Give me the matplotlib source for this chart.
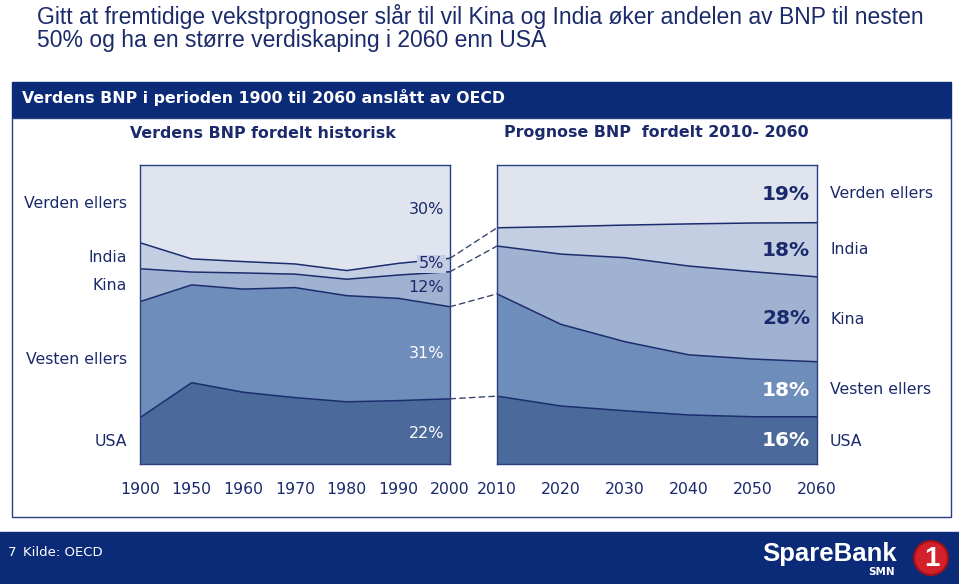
import numpy as np
import matplotlib
matplotlib.use("Agg")
import matplotlib.pyplot as plt
from matplotlib.patches import Rectangle, Circle, ConnectionPatch

# ---------------- data ----------------
hist_years = ["1900", "1950", "1960", "1970", "1980", "1990", "2000"]
hist_usa    = [15.5, 27.2, 24.0, 22.2, 20.8, 21.2, 21.8]
hist_vesten = [38.8, 32.7, 34.5, 36.8, 35.5, 34.2, 30.8]
hist_kina   = [11.0, 4.3, 5.4, 4.5, 5.5, 7.8, 11.7]
hist_india  = [8.7, 4.4, 3.8, 3.4, 2.9, 3.9, 4.5]
hist_verden = [26.0, 31.4, 32.3, 33.1, 35.3, 32.9, 31.2]

prog_years = ["2010", "2020", "2030", "2040", "2050", "2060"]
prog_usa    = [22.7, 19.4, 17.8, 16.4, 15.8, 15.8]
prog_vesten = [34.2, 27.3, 23.1, 20.1, 19.3, 18.4]
prog_kina   = [16.0, 23.5, 28.1, 29.7, 29.2, 28.4]
prog_india  = [6.1, 9.2, 10.9, 14.1, 16.3, 18.1]
prog_verden = [21.0, 20.6, 20.1, 19.4, 19.4, 19.3]

series_names = ["USA", "Vesten ellers", "Kina", "India", "Verden ellers"]
hist_labels = ["22%", "31%", "12%", "5%", "30%"]
prog_labels = ["16%", "18%", "28%", "18%", "19%"]

title = "Gitt at fremtidige vekstprognoser slår til vil Kina og India øker andelen av BNP til nesten\n50% og ha en større verdiskaping i 2060 enn USA"
header = "Verdens BNP i perioden 1900 til 2060 anslått av OECD"
sub_left = "Verdens BNP fordelt historisk"
sub_right = "Prognose BNP  fordelt 2010- 2060"
source = "Kilde: OECD"

# ---------------- style ----------------
W, H = 959, 584
NAVY = "#0b2a78"
TXT = "#1b2a6b"
LINE = "#1c2d6e"
band_colors = ["#4b6a9b", "#6e8dbb", "#a0b2d2", "#c4cee3", "#dfe4ef"]

fig = plt.figure(figsize=(W / 100, H / 100), dpi=100)
fig.patch.set_facecolor("white")

def fx(x): return x / W
def fy(y): return 1 - y / H

# background axes in pixel coords
bg = fig.add_axes([0, 0, 1, 1], zorder=0)
bg.set_xlim(0, W)
bg.set_ylim(H, 0)
bg.axis("off")

# title
bg.text(37, 28, title, fontsize=16.5, color=TXT, family="Liberation Sans",
        va="center", ha="left", linespacing=1.02)

# header bar
bg.add_patch(Rectangle((12, 82), 939, 36, facecolor=NAVY, edgecolor=NAVY, lw=1))
bg.text(22, 98, header, fontsize=11.3, fontweight="bold", color="white",
        va="center", ha="left", family="DejaVu Sans")
# white panel
bg.add_patch(Rectangle((12, 118), 939, 399, facecolor="white", edgecolor="#2a3f7f", lw=1))
bg.text(263, 133, sub_left, fontsize=11.4, fontweight="bold", color=TXT, va="center", ha="center")
bg.text(656, 133, sub_right, fontsize=11.4, fontweight="bold", color=TXT, va="center", ha="center")

# footer
bg.add_patch(Rectangle((0, 532), W, 52, facecolor=NAVY, edgecolor=NAVY))
bg.text(8, 553, "7", fontsize=9.5, color="white", va="center", ha="left")
bg.text(23, 553, source, fontsize=9.5, color="white", va="center", ha="left")
bg.text(830, 554, "SpareBank", fontsize=18.5, fontweight="bold", color="white",
        va="center", ha="center", family="Liberation Sans")
bg.text(882, 572, "SMN", fontsize=7.5, fontweight="bold", color="white", va="center", ha="center")
bg.add_patch(Circle((931, 558), 17, facecolor="#d4202a", edgecolor="#a01018", lw=1.5))
bg.text(932, 559, "1", fontsize=20, fontweight="bold", color="white", va="center", ha="center",
        family="Liberation Sans")

def draw(ax, years, data):
    x = np.arange(len(years))
    ax.stackplot(x, *data, colors=band_colors, linewidth=0)
    cum = np.cumsum(np.array(data), axis=0)
    for k in range(4):
        ax.plot(x, cum[k], color=LINE, lw=1.1)
    ax.set_xlim(0, len(years) - 1)
    ax.set_ylim(0, 100)
    ax.set_yticks([])
    ax.set_xticks(x, years)
    ax.tick_params(axis="x", length=0, pad=13, labelsize=11.3, labelcolor=TXT)
    for s in ax.spines.values():
        s.set_color("#2a3f7f")
        s.set_linewidth(1)
    return cum

ax1 = fig.add_axes([fx(140), fy(464), fx(310), 299 / H], zorder=1)
ax2 = fig.add_axes([fx(497), fy(464), fx(320), 299 / H], zorder=1)
cum1 = draw(ax1, hist_years, [hist_usa, hist_vesten, hist_kina, hist_india, hist_verden])
cum2 = draw(ax2, prog_years, [prog_usa, prog_vesten, prog_kina, prog_india, prog_verden])

# connectors
for k in range(4):
    con = ConnectionPatch(xyA=(len(hist_years) - 1, cum1[k][-1]), coordsA=ax1.transData,
                          xyB=(0, cum2[k][0]), coordsB=ax2.transData,
                          color="#3a4670", lw=1, linestyle=(0, (4, 3)), zorder=5)
    fig.add_artist(con)

# foreground overlay for labels
fg = fig.add_axes([0, 0, 1, 1], zorder=2)
fg.set_xlim(0, W)
fg.set_ylim(H, 0)
fg.axis("off")
fg.patch.set_alpha(0)

# left percent labels
left_pct_pos = [433, 354, 288, 264, 210]
left_pct_col = ["white", "white", TXT, TXT, TXT]
for lab, y, c in zip(hist_labels, left_pct_pos, left_pct_col):
    kw = {}
    if lab == "5%":
        kw["bbox"] = dict(boxstyle="square,pad=0.1", facecolor="#c4cee3", edgecolor="none")
    fg.text(444, y, lab, fontsize=11.5, color=c, va="center", ha="right", **kw)

# right percent labels
right_pct_pos = [441, 390, 319, 250, 194]
right_pct_col = ["white", "white", TXT, TXT, TXT]
for lab, y, c in zip(prog_labels, right_pct_pos, right_pct_col):
    fg.text(810, y, lab, fontsize=14.5, fontweight="bold", color=c, va="center", ha="right")

# category labels
left_name_pos = [441, 360, 286, 257, 204]
right_name_pos = [441, 390, 320, 250, 194]
for name, yl, yr in zip(series_names, left_name_pos, right_name_pos):
    fg.text(127, yl, name, fontsize=11.3, color=TXT, va="center", ha="right")
    fg.text(830, yr, name, fontsize=11.3, color=TXT, va="center", ha="left")

fig.savefig("out.png", dpi=100, facecolor="white")
